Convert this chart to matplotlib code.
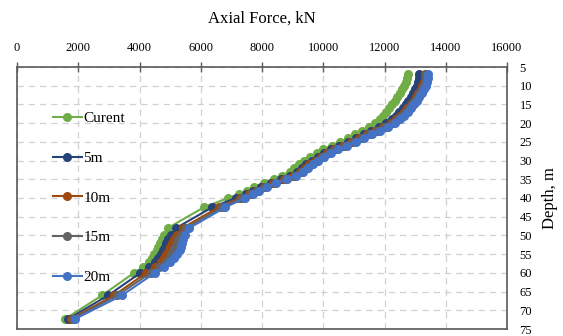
import matplotlib
matplotlib.use("Agg")
import matplotlib.pyplot as plt

plt.rcParams['font.family'] = ['Liberation Serif', 'DejaVu Serif']

# depth of the output points (m)
depth = [7, 8, 9, 10, 11, 12, 13, 14, 15, 16, 17, 18, 19, 20, 21, 22, 23, 24, 25,
         26, 27, 28, 29, 30, 31, 32, 33, 34, 35, 36, 37, 38, 39, 40, 42.5, 48,
         50, 51, 52, 53, 54, 55, 56, 57, 58.5, 60, 66, 72.3]

# axial force (kN) for each case
curent = [12770, 12740, 12700, 12650, 12580, 12500, 12420, 12330, 12240, 12150,
          12060, 11960, 11850, 11700, 11480, 11250, 11030, 10800, 10560, 10280,
          10000, 9780, 9580, 9380, 9200, 9050, 8900, 8650, 8380, 8050, 7750, 7500,
          7250, 6900, 6100, 4930, 4800, 4720, 4660, 4610, 4560, 4480, 4400, 4300,
          4100, 3820, 2780, 1570]
f_5m = [13130, 13120, 13100, 13060, 13000, 12930, 12860, 12780, 12700, 12590,
        12480, 12360, 12230, 12050, 11810, 11560, 11320, 11070, 10810, 10530,
        10250, 10030, 9830, 9630, 9450, 9300, 9150, 8900, 8630, 8280, 7960, 7700,
        7470, 7140, 6370, 5200, 5030, 4940, 4880, 4830, 4780, 4700, 4620, 4520,
        4320, 4030, 2980, 1670]
f_10m = [13330, 13310, 13280, 13240, 13180, 13110, 13035, 12950, 12860, 12750,
         12640, 12520, 12380, 12200, 11950, 11690, 11440, 11180, 10910, 10630,
         10350, 10130, 9930, 9730, 9550, 9400, 9250, 9000, 8720, 8370, 8060, 7800,
         7590, 7280, 6580, 5410, 5220, 5130, 5060, 5010, 4960, 4880, 4800, 4700,
         4500, 4220, 3170, 1770]
f_15m = [13370, 13360, 13330, 13290, 13230, 13160, 13085, 13000, 12910, 12810,
         12700, 12580, 12450, 12270, 12020, 11760, 11510, 11250, 10980, 10700,
         10420, 10200, 10000, 9800, 9620, 9470, 9320, 9070, 8780, 8430, 8110, 7850,
         7650, 7360, 6700, 5530, 5360, 5270, 5210, 5160, 5110, 5030, 4950, 4850,
         4650, 4360, 3280, 1820]
f_20m = [13420, 13410, 13380, 13340, 13280, 13210, 13135, 13050, 12960, 12860,
         12760, 12650, 12520, 12350, 12100, 11840, 11590, 11330, 11060, 10770,
         10480, 10250, 10040, 9830, 9650, 9500, 9350, 9100, 8820, 8470, 8160, 7900,
         7710, 7440, 6800, 5630, 5500, 5430, 5390, 5350, 5310, 5220, 5120, 5000,
         4800, 4500, 3430, 1900]

labels = ["Curent", "5m", "10m", "15m", "20m"]
colors = ["#70AD47", "#264478", "#9E480E", "#636363", "#4472C4"]
series = [curent, f_5m, f_10m, f_15m, f_20m]

fig = plt.figure(figsize=(5.63, 3.36), dpi=100)
ax = fig.add_axes([17 / 563, 1 - 329 / 336, 490 / 563, 262 / 336])

for vals, lab, col in zip(series, labels, colors):
    ax.plot(vals, depth, color=col, lw=1.5, marker='o', ms=5.5, label=lab)

ax.set_xlim(0, 16000)
ax.set_ylim(75, 5)
ax.set_xticks(range(0, 16001, 2000))
ax.set_yticks(range(5, 76, 5))
ax.xaxis.tick_top()
ax.xaxis.set_label_position('top')
ax.yaxis.tick_right()
ax.yaxis.set_label_position('right')
ax.tick_params(axis='x', direction='inout', length=7, width=1, color='#595959',
               labelsize=9, pad=6)
ax.tick_params(axis='y', length=0, labelsize=9, pad=9)
ax.set_xlabel("Axial Force, kN", fontsize=12, labelpad=14)
ax.set_ylabel("Depth, m", fontsize=12, labelpad=7)

ax.grid(True, color='#D0D0D0', ls=(0, (5, 4)), lw=0.9)
ax.set_axisbelow(True)
for s in ax.spines.values():
    s.set_color('#595959')
    s.set_linewidth(1.2)

ax.legend(loc='upper left', bbox_to_anchor=(0.073, 0.83), frameon=False,
          fontsize=11, handlelength=1.9, handletextpad=0.1, labelspacing=1.7,
          borderpad=0, borderaxespad=0)

fig.savefig("out.png", dpi=100)
